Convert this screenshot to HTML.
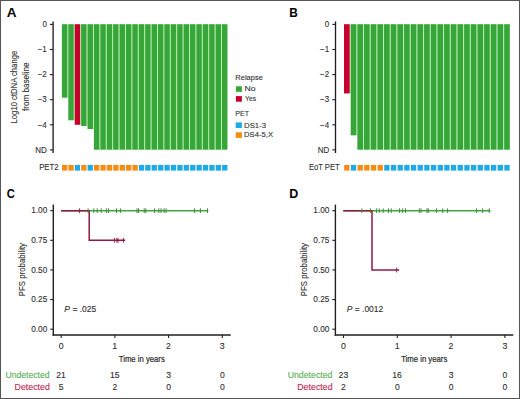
<!DOCTYPE html>
<html><head><meta charset="utf-8"><style>
html,body{margin:0;padding:0;background:#fff;}
body{width:520px;height:399px;overflow:hidden;position:relative;}
svg{position:absolute;left:0;top:0;}
svg text{font-family:"Liberation Sans", sans-serif;}
svg text.n{stroke-width:0.1px;}
svg text.b{stroke-width:0.22px;}
</style></head><body>
<svg width="520" height="399" viewBox="0 0 520 399">
<rect x="0.5" y="0.5" width="519" height="398" fill="#fff" stroke="#555" stroke-width="1"/>
<line x1="53.10" y1="21.40" x2="53.10" y2="153.00" stroke="#231f20" stroke-width="1.35"/>
<line x1="49.90" y1="24.40" x2="53.10" y2="24.40" stroke="#231f20" stroke-width="1.1"/>
<line x1="49.90" y1="49.50" x2="53.10" y2="49.50" stroke="#231f20" stroke-width="1.1"/>
<line x1="49.90" y1="74.60" x2="53.10" y2="74.60" stroke="#231f20" stroke-width="1.1"/>
<line x1="49.90" y1="99.70" x2="53.10" y2="99.70" stroke="#231f20" stroke-width="1.1"/>
<line x1="49.90" y1="124.80" x2="53.10" y2="124.80" stroke="#231f20" stroke-width="1.1"/>
<line x1="49.90" y1="149.90" x2="53.10" y2="149.90" stroke="#231f20" stroke-width="1.1"/>
<rect x="67.15" y="24.20" width="1.35" height="73.49" fill="#c4f5bc"/>
<rect x="73.55" y="24.20" width="1.35" height="96.08" fill="#c4f5bc"/>
<rect x="79.96" y="24.20" width="1.35" height="100.60" fill="#c4f5bc"/>
<rect x="86.36" y="24.20" width="1.35" height="101.86" fill="#c4f5bc"/>
<rect x="92.77" y="24.20" width="1.35" height="104.87" fill="#c4f5bc"/>
<rect x="99.17" y="24.20" width="1.35" height="125.50" fill="#c4f5bc"/>
<rect x="105.57" y="24.20" width="1.35" height="125.50" fill="#c4f5bc"/>
<rect x="111.98" y="24.20" width="1.35" height="125.50" fill="#c4f5bc"/>
<rect x="118.38" y="24.20" width="1.35" height="125.50" fill="#c4f5bc"/>
<rect x="124.79" y="24.20" width="1.35" height="125.50" fill="#c4f5bc"/>
<rect x="131.19" y="24.20" width="1.35" height="125.50" fill="#c4f5bc"/>
<rect x="137.59" y="24.20" width="1.35" height="125.50" fill="#c4f5bc"/>
<rect x="144.00" y="24.20" width="1.35" height="125.50" fill="#c4f5bc"/>
<rect x="150.40" y="24.20" width="1.35" height="125.50" fill="#c4f5bc"/>
<rect x="156.81" y="24.20" width="1.35" height="125.50" fill="#c4f5bc"/>
<rect x="163.21" y="24.20" width="1.35" height="125.50" fill="#c4f5bc"/>
<rect x="169.61" y="24.20" width="1.35" height="125.50" fill="#c4f5bc"/>
<rect x="176.02" y="24.20" width="1.35" height="125.50" fill="#c4f5bc"/>
<rect x="182.42" y="24.20" width="1.35" height="125.50" fill="#c4f5bc"/>
<rect x="188.83" y="24.20" width="1.35" height="125.50" fill="#c4f5bc"/>
<rect x="195.23" y="24.20" width="1.35" height="125.50" fill="#c4f5bc"/>
<rect x="201.63" y="24.20" width="1.35" height="125.50" fill="#c4f5bc"/>
<rect x="208.04" y="24.20" width="1.35" height="125.50" fill="#c4f5bc"/>
<rect x="214.44" y="24.20" width="1.35" height="125.50" fill="#c4f5bc"/>
<rect x="220.85" y="24.20" width="1.35" height="125.50" fill="#c4f5bc"/>
<rect x="61.90" y="24.20" width="5.45" height="73.49" fill="#37a639"/>
<rect x="68.30" y="24.20" width="5.45" height="96.08" fill="#37a639"/>
<rect x="74.71" y="24.20" width="5.45" height="100.60" fill="#c8002d"/>
<rect x="81.11" y="24.20" width="5.45" height="101.86" fill="#37a639"/>
<rect x="87.52" y="24.20" width="5.45" height="104.87" fill="#37a639"/>
<rect x="93.92" y="24.20" width="5.45" height="125.50" fill="#37a639"/>
<rect x="100.32" y="24.20" width="5.45" height="125.50" fill="#37a639"/>
<rect x="106.73" y="24.20" width="5.45" height="125.50" fill="#37a639"/>
<rect x="113.13" y="24.20" width="5.45" height="125.50" fill="#37a639"/>
<rect x="119.54" y="24.20" width="5.45" height="125.50" fill="#37a639"/>
<rect x="125.94" y="24.20" width="5.45" height="125.50" fill="#37a639"/>
<rect x="132.34" y="24.20" width="5.45" height="125.50" fill="#37a639"/>
<rect x="138.75" y="24.20" width="5.45" height="125.50" fill="#37a639"/>
<rect x="145.15" y="24.20" width="5.45" height="125.50" fill="#37a639"/>
<rect x="151.56" y="24.20" width="5.45" height="125.50" fill="#37a639"/>
<rect x="157.96" y="24.20" width="5.45" height="125.50" fill="#37a639"/>
<rect x="164.36" y="24.20" width="5.45" height="125.50" fill="#37a639"/>
<rect x="170.77" y="24.20" width="5.45" height="125.50" fill="#37a639"/>
<rect x="177.17" y="24.20" width="5.45" height="125.50" fill="#37a639"/>
<rect x="183.58" y="24.20" width="5.45" height="125.50" fill="#37a639"/>
<rect x="189.98" y="24.20" width="5.45" height="125.50" fill="#37a639"/>
<rect x="196.38" y="24.20" width="5.45" height="125.50" fill="#37a639"/>
<rect x="202.79" y="24.20" width="5.45" height="125.50" fill="#37a639"/>
<rect x="209.19" y="24.20" width="5.45" height="125.50" fill="#37a639"/>
<rect x="215.60" y="24.20" width="5.45" height="125.50" fill="#37a639"/>
<rect x="222.00" y="24.20" width="5.45" height="125.50" fill="#37a639"/>
<rect x="61.98" y="164.90" width="5.30" height="5.70" fill="#f58c14"/>
<rect x="68.38" y="164.90" width="5.30" height="5.70" fill="#f58c14"/>
<rect x="74.78" y="164.90" width="5.30" height="5.70" fill="#1eaae6"/>
<rect x="81.19" y="164.90" width="5.30" height="5.70" fill="#f58c14"/>
<rect x="87.59" y="164.90" width="5.30" height="5.70" fill="#1eaae6"/>
<rect x="93.99" y="164.90" width="5.30" height="5.70" fill="#f58c14"/>
<rect x="100.40" y="164.90" width="5.30" height="5.70" fill="#f58c14"/>
<rect x="106.80" y="164.90" width="5.30" height="5.70" fill="#f58c14"/>
<rect x="113.21" y="164.90" width="5.30" height="5.70" fill="#f58c14"/>
<rect x="119.61" y="164.90" width="5.30" height="5.70" fill="#f58c14"/>
<rect x="126.02" y="164.90" width="5.30" height="5.70" fill="#f58c14"/>
<rect x="132.42" y="164.90" width="5.30" height="5.70" fill="#f58c14"/>
<rect x="138.82" y="164.90" width="5.30" height="5.70" fill="#1eaae6"/>
<rect x="145.23" y="164.90" width="5.30" height="5.70" fill="#1eaae6"/>
<rect x="151.63" y="164.90" width="5.30" height="5.70" fill="#1eaae6"/>
<rect x="158.03" y="164.90" width="5.30" height="5.70" fill="#1eaae6"/>
<rect x="164.44" y="164.90" width="5.30" height="5.70" fill="#1eaae6"/>
<rect x="170.84" y="164.90" width="5.30" height="5.70" fill="#1eaae6"/>
<rect x="177.25" y="164.90" width="5.30" height="5.70" fill="#1eaae6"/>
<rect x="183.65" y="164.90" width="5.30" height="5.70" fill="#1eaae6"/>
<rect x="190.05" y="164.90" width="5.30" height="5.70" fill="#1eaae6"/>
<rect x="196.46" y="164.90" width="5.30" height="5.70" fill="#1eaae6"/>
<rect x="202.86" y="164.90" width="5.30" height="5.70" fill="#1eaae6"/>
<rect x="209.27" y="164.90" width="5.30" height="5.70" fill="#1eaae6"/>
<rect x="215.67" y="164.90" width="5.30" height="5.70" fill="#1eaae6"/>
<rect x="222.07" y="164.90" width="5.30" height="5.70" fill="#1eaae6"/>
<line x1="335.50" y1="21.40" x2="335.50" y2="153.00" stroke="#231f20" stroke-width="1.35"/>
<line x1="332.30" y1="24.40" x2="335.50" y2="24.40" stroke="#231f20" stroke-width="1.1"/>
<line x1="332.30" y1="49.50" x2="335.50" y2="49.50" stroke="#231f20" stroke-width="1.1"/>
<line x1="332.30" y1="74.60" x2="335.50" y2="74.60" stroke="#231f20" stroke-width="1.1"/>
<line x1="332.30" y1="99.70" x2="335.50" y2="99.70" stroke="#231f20" stroke-width="1.1"/>
<line x1="332.30" y1="124.80" x2="335.50" y2="124.80" stroke="#231f20" stroke-width="1.1"/>
<line x1="332.30" y1="149.90" x2="335.50" y2="149.90" stroke="#231f20" stroke-width="1.1"/>
<rect x="349.50" y="24.20" width="1.37" height="69.23" fill="#c4f5bc"/>
<rect x="356.17" y="24.20" width="1.37" height="111.14" fill="#c4f5bc"/>
<rect x="362.84" y="24.20" width="1.37" height="125.50" fill="#c4f5bc"/>
<rect x="369.52" y="24.20" width="1.37" height="125.50" fill="#c4f5bc"/>
<rect x="376.19" y="24.20" width="1.37" height="125.50" fill="#c4f5bc"/>
<rect x="382.86" y="24.20" width="1.37" height="125.50" fill="#c4f5bc"/>
<rect x="389.53" y="24.20" width="1.37" height="125.50" fill="#c4f5bc"/>
<rect x="396.20" y="24.20" width="1.37" height="125.50" fill="#c4f5bc"/>
<rect x="402.88" y="24.20" width="1.37" height="125.50" fill="#c4f5bc"/>
<rect x="409.55" y="24.20" width="1.37" height="125.50" fill="#c4f5bc"/>
<rect x="416.22" y="24.20" width="1.37" height="125.50" fill="#c4f5bc"/>
<rect x="422.89" y="24.20" width="1.37" height="125.50" fill="#c4f5bc"/>
<rect x="429.56" y="24.20" width="1.37" height="125.50" fill="#c4f5bc"/>
<rect x="436.24" y="24.20" width="1.37" height="125.50" fill="#c4f5bc"/>
<rect x="442.91" y="24.20" width="1.37" height="125.50" fill="#c4f5bc"/>
<rect x="449.58" y="24.20" width="1.37" height="125.50" fill="#c4f5bc"/>
<rect x="456.25" y="24.20" width="1.37" height="125.50" fill="#c4f5bc"/>
<rect x="462.92" y="24.20" width="1.37" height="125.50" fill="#c4f5bc"/>
<rect x="469.60" y="24.20" width="1.37" height="125.50" fill="#c4f5bc"/>
<rect x="476.27" y="24.20" width="1.37" height="125.50" fill="#c4f5bc"/>
<rect x="482.94" y="24.20" width="1.37" height="125.50" fill="#c4f5bc"/>
<rect x="489.61" y="24.20" width="1.37" height="125.50" fill="#c4f5bc"/>
<rect x="496.28" y="24.20" width="1.37" height="125.50" fill="#c4f5bc"/>
<rect x="502.96" y="24.20" width="1.37" height="125.50" fill="#c4f5bc"/>
<rect x="344.00" y="24.20" width="5.70" height="69.23" fill="#c8002d"/>
<rect x="350.67" y="24.20" width="5.70" height="111.14" fill="#37a639"/>
<rect x="357.34" y="24.20" width="5.70" height="125.50" fill="#37a639"/>
<rect x="364.02" y="24.20" width="5.70" height="125.50" fill="#37a639"/>
<rect x="370.69" y="24.20" width="5.70" height="125.50" fill="#37a639"/>
<rect x="377.36" y="24.20" width="5.70" height="125.50" fill="#37a639"/>
<rect x="384.03" y="24.20" width="5.70" height="125.50" fill="#37a639"/>
<rect x="390.70" y="24.20" width="5.70" height="125.50" fill="#37a639"/>
<rect x="397.38" y="24.20" width="5.70" height="125.50" fill="#37a639"/>
<rect x="404.05" y="24.20" width="5.70" height="125.50" fill="#37a639"/>
<rect x="410.72" y="24.20" width="5.70" height="125.50" fill="#37a639"/>
<rect x="417.39" y="24.20" width="5.70" height="125.50" fill="#37a639"/>
<rect x="424.06" y="24.20" width="5.70" height="125.50" fill="#37a639"/>
<rect x="430.74" y="24.20" width="5.70" height="125.50" fill="#37a639"/>
<rect x="437.41" y="24.20" width="5.70" height="125.50" fill="#37a639"/>
<rect x="444.08" y="24.20" width="5.70" height="125.50" fill="#37a639"/>
<rect x="450.75" y="24.20" width="5.70" height="125.50" fill="#37a639"/>
<rect x="457.42" y="24.20" width="5.70" height="125.50" fill="#37a639"/>
<rect x="464.10" y="24.20" width="5.70" height="125.50" fill="#37a639"/>
<rect x="470.77" y="24.20" width="5.70" height="125.50" fill="#37a639"/>
<rect x="477.44" y="24.20" width="5.70" height="125.50" fill="#37a639"/>
<rect x="484.11" y="24.20" width="5.70" height="125.50" fill="#37a639"/>
<rect x="490.78" y="24.20" width="5.70" height="125.50" fill="#37a639"/>
<rect x="497.46" y="24.20" width="5.70" height="125.50" fill="#37a639"/>
<rect x="504.13" y="24.20" width="5.70" height="125.50" fill="#37a639"/>
<rect x="344.20" y="164.90" width="5.30" height="5.70" fill="#f58c14"/>
<rect x="350.87" y="164.90" width="5.30" height="5.70" fill="#1eaae6"/>
<rect x="357.54" y="164.90" width="5.30" height="5.70" fill="#f58c14"/>
<rect x="364.22" y="164.90" width="5.30" height="5.70" fill="#f58c14"/>
<rect x="370.89" y="164.90" width="5.30" height="5.70" fill="#f58c14"/>
<rect x="377.56" y="164.90" width="5.30" height="5.70" fill="#f58c14"/>
<rect x="384.23" y="164.90" width="5.30" height="5.70" fill="#1eaae6"/>
<rect x="390.90" y="164.90" width="5.30" height="5.70" fill="#1eaae6"/>
<rect x="397.58" y="164.90" width="5.30" height="5.70" fill="#1eaae6"/>
<rect x="404.25" y="164.90" width="5.30" height="5.70" fill="#1eaae6"/>
<rect x="410.92" y="164.90" width="5.30" height="5.70" fill="#1eaae6"/>
<rect x="417.59" y="164.90" width="5.30" height="5.70" fill="#1eaae6"/>
<rect x="424.26" y="164.90" width="5.30" height="5.70" fill="#1eaae6"/>
<rect x="430.94" y="164.90" width="5.30" height="5.70" fill="#1eaae6"/>
<rect x="437.61" y="164.90" width="5.30" height="5.70" fill="#1eaae6"/>
<rect x="444.28" y="164.90" width="5.30" height="5.70" fill="#1eaae6"/>
<rect x="450.95" y="164.90" width="5.30" height="5.70" fill="#1eaae6"/>
<rect x="457.62" y="164.90" width="5.30" height="5.70" fill="#1eaae6"/>
<rect x="464.30" y="164.90" width="5.30" height="5.70" fill="#1eaae6"/>
<rect x="470.97" y="164.90" width="5.30" height="5.70" fill="#1eaae6"/>
<rect x="477.64" y="164.90" width="5.30" height="5.70" fill="#1eaae6"/>
<rect x="484.31" y="164.90" width="5.30" height="5.70" fill="#1eaae6"/>
<rect x="490.98" y="164.90" width="5.30" height="5.70" fill="#1eaae6"/>
<rect x="497.66" y="164.90" width="5.30" height="5.70" fill="#1eaae6"/>
<rect x="504.33" y="164.90" width="5.30" height="5.70" fill="#1eaae6"/>
<rect x="235.90" y="86.30" width="6.00" height="5.50" fill="#37a639"/>
<rect x="235.90" y="96.10" width="6.00" height="5.60" fill="#c8002d"/>
<rect x="235.70" y="122.40" width="6.20" height="5.60" fill="#1eaae6"/>
<rect x="235.70" y="132.30" width="6.20" height="5.60" fill="#f58c14"/>
<line x1="53.30" y1="204.60" x2="53.30" y2="335.70" stroke="#231f20" stroke-width="1.4"/>
<line x1="52.60" y1="335.00" x2="230.70" y2="335.00" stroke="#231f20" stroke-width="1.4"/>
<line x1="50.20" y1="210.70" x2="53.30" y2="210.70" stroke="#231f20" stroke-width="1.1"/>
<line x1="50.20" y1="240.32" x2="53.30" y2="240.32" stroke="#231f20" stroke-width="1.1"/>
<line x1="50.20" y1="269.95" x2="53.30" y2="269.95" stroke="#231f20" stroke-width="1.1"/>
<line x1="50.20" y1="299.57" x2="53.30" y2="299.57" stroke="#231f20" stroke-width="1.1"/>
<line x1="50.20" y1="329.20" x2="53.30" y2="329.20" stroke="#231f20" stroke-width="1.1"/>
<line x1="61.20" y1="335.00" x2="61.20" y2="338.00" stroke="#231f20" stroke-width="1.1"/>
<line x1="114.90" y1="335.00" x2="114.90" y2="338.00" stroke="#231f20" stroke-width="1.1"/>
<line x1="168.60" y1="335.00" x2="168.60" y2="338.00" stroke="#231f20" stroke-width="1.1"/>
<line x1="222.30" y1="335.00" x2="222.30" y2="338.00" stroke="#231f20" stroke-width="1.1"/>
<line x1="61.20" y1="210.70" x2="208.30" y2="210.70" stroke="#42a83e" stroke-width="1.4"/>
<polyline points="60.90,210.70 89.20,210.70 89.20,240.32 125.20,240.32" fill="none" stroke="#921a40" stroke-width="1.5"/>
<line x1="88.10" y1="208.30" x2="88.10" y2="213.10" stroke="#3b873b" stroke-width="0.95"/>
<line x1="93.80" y1="208.30" x2="93.80" y2="213.10" stroke="#3b873b" stroke-width="0.95"/>
<line x1="97.20" y1="208.30" x2="97.20" y2="213.10" stroke="#3b873b" stroke-width="0.95"/>
<line x1="101.20" y1="208.30" x2="101.20" y2="213.10" stroke="#3b873b" stroke-width="0.95"/>
<line x1="106.40" y1="208.30" x2="106.40" y2="213.10" stroke="#3b873b" stroke-width="0.95"/>
<line x1="108.50" y1="208.30" x2="108.50" y2="213.10" stroke="#3b873b" stroke-width="0.95"/>
<line x1="116.50" y1="208.30" x2="116.50" y2="213.10" stroke="#3b873b" stroke-width="0.95"/>
<line x1="120.40" y1="208.30" x2="120.40" y2="213.10" stroke="#3b873b" stroke-width="0.95"/>
<line x1="137.00" y1="208.30" x2="137.00" y2="213.10" stroke="#3b873b" stroke-width="0.95"/>
<line x1="138.50" y1="208.30" x2="138.50" y2="213.10" stroke="#3b873b" stroke-width="0.95"/>
<line x1="144.20" y1="208.30" x2="144.20" y2="213.10" stroke="#3b873b" stroke-width="0.95"/>
<line x1="145.80" y1="208.30" x2="145.80" y2="213.10" stroke="#3b873b" stroke-width="0.95"/>
<line x1="154.60" y1="208.30" x2="154.60" y2="213.10" stroke="#3b873b" stroke-width="0.95"/>
<line x1="158.80" y1="208.30" x2="158.80" y2="213.10" stroke="#3b873b" stroke-width="0.95"/>
<line x1="161.00" y1="208.30" x2="161.00" y2="213.10" stroke="#3b873b" stroke-width="0.95"/>
<line x1="164.00" y1="208.30" x2="164.00" y2="213.10" stroke="#3b873b" stroke-width="0.95"/>
<line x1="166.00" y1="208.30" x2="166.00" y2="213.10" stroke="#3b873b" stroke-width="0.95"/>
<line x1="194.40" y1="208.30" x2="194.40" y2="213.10" stroke="#3b873b" stroke-width="0.95"/>
<line x1="200.40" y1="208.30" x2="200.40" y2="213.10" stroke="#3b873b" stroke-width="0.95"/>
<line x1="207.50" y1="208.30" x2="207.50" y2="213.10" stroke="#3b873b" stroke-width="0.95"/>
<line x1="79.60" y1="208.30" x2="79.60" y2="213.10" stroke="#921a40" stroke-width="0.95"/>
<line x1="114.40" y1="237.92" x2="114.40" y2="242.72" stroke="#921a40" stroke-width="0.95"/>
<line x1="116.80" y1="237.92" x2="116.80" y2="242.72" stroke="#921a40" stroke-width="0.95"/>
<line x1="118.00" y1="237.92" x2="118.00" y2="242.72" stroke="#921a40" stroke-width="0.95"/>
<line x1="123.40" y1="237.92" x2="123.40" y2="242.72" stroke="#921a40" stroke-width="0.95"/>
<line x1="335.40" y1="204.60" x2="335.40" y2="335.70" stroke="#231f20" stroke-width="1.4"/>
<line x1="334.70" y1="335.00" x2="513.30" y2="335.00" stroke="#231f20" stroke-width="1.4"/>
<line x1="332.30" y1="210.70" x2="335.40" y2="210.70" stroke="#231f20" stroke-width="1.1"/>
<line x1="332.30" y1="240.32" x2="335.40" y2="240.32" stroke="#231f20" stroke-width="1.1"/>
<line x1="332.30" y1="269.95" x2="335.40" y2="269.95" stroke="#231f20" stroke-width="1.1"/>
<line x1="332.30" y1="299.57" x2="335.40" y2="299.57" stroke="#231f20" stroke-width="1.1"/>
<line x1="332.30" y1="329.20" x2="335.40" y2="329.20" stroke="#231f20" stroke-width="1.1"/>
<line x1="343.50" y1="335.00" x2="343.50" y2="338.00" stroke="#231f20" stroke-width="1.1"/>
<line x1="397.30" y1="335.00" x2="397.30" y2="338.00" stroke="#231f20" stroke-width="1.1"/>
<line x1="451.10" y1="335.00" x2="451.10" y2="338.00" stroke="#231f20" stroke-width="1.1"/>
<line x1="504.90" y1="335.00" x2="504.90" y2="338.00" stroke="#231f20" stroke-width="1.1"/>
<line x1="343.50" y1="210.70" x2="490.50" y2="210.70" stroke="#42a83e" stroke-width="1.4"/>
<polyline points="343.20,210.70 372.00,210.70 372.00,269.95 399.20,269.95" fill="none" stroke="#921a40" stroke-width="1.5"/>
<line x1="361.90" y1="208.30" x2="361.90" y2="213.10" stroke="#3b873b" stroke-width="0.95"/>
<line x1="370.40" y1="208.30" x2="370.40" y2="213.10" stroke="#3b873b" stroke-width="0.95"/>
<line x1="376.40" y1="208.30" x2="376.40" y2="213.10" stroke="#3b873b" stroke-width="0.95"/>
<line x1="379.20" y1="208.30" x2="379.20" y2="213.10" stroke="#3b873b" stroke-width="0.95"/>
<line x1="383.20" y1="208.30" x2="383.20" y2="213.10" stroke="#3b873b" stroke-width="0.95"/>
<line x1="388.50" y1="208.30" x2="388.50" y2="213.10" stroke="#3b873b" stroke-width="0.95"/>
<line x1="391.20" y1="208.30" x2="391.20" y2="213.10" stroke="#3b873b" stroke-width="0.95"/>
<line x1="399.60" y1="208.30" x2="399.60" y2="213.10" stroke="#3b873b" stroke-width="0.95"/>
<line x1="402.70" y1="208.30" x2="402.70" y2="213.10" stroke="#3b873b" stroke-width="0.95"/>
<line x1="405.50" y1="208.30" x2="405.50" y2="213.10" stroke="#3b873b" stroke-width="0.95"/>
<line x1="419.30" y1="208.30" x2="419.30" y2="213.10" stroke="#3b873b" stroke-width="0.95"/>
<line x1="421.00" y1="208.30" x2="421.00" y2="213.10" stroke="#3b873b" stroke-width="0.95"/>
<line x1="427.00" y1="208.30" x2="427.00" y2="213.10" stroke="#3b873b" stroke-width="0.95"/>
<line x1="428.30" y1="208.30" x2="428.30" y2="213.10" stroke="#3b873b" stroke-width="0.95"/>
<line x1="436.40" y1="208.30" x2="436.40" y2="213.10" stroke="#3b873b" stroke-width="0.95"/>
<line x1="442.70" y1="208.30" x2="442.70" y2="213.10" stroke="#3b873b" stroke-width="0.95"/>
<line x1="447.60" y1="208.30" x2="447.60" y2="213.10" stroke="#3b873b" stroke-width="0.95"/>
<line x1="476.40" y1="208.30" x2="476.40" y2="213.10" stroke="#3b873b" stroke-width="0.95"/>
<line x1="482.60" y1="208.30" x2="482.60" y2="213.10" stroke="#3b873b" stroke-width="0.95"/>
<line x1="489.20" y1="208.30" x2="489.20" y2="213.10" stroke="#3b873b" stroke-width="0.95"/>
<line x1="396.70" y1="267.55" x2="396.70" y2="272.35" stroke="#921a40" stroke-width="0.95"/>
<text transform="translate(6.74,16.80) scale(1.0588,1)" font-size="12.8" font-weight="bold" fill="#000">A</text>
<text transform="translate(42.46,27.10) scale(0.9500,1)" font-size="8.4" fill="#2e2e2e" class="n" stroke="#2e2e2e">0</text>
<text transform="translate(37.71,52.20) scale(0.9500,1)" font-size="8.4" fill="#2e2e2e" class="n" stroke="#2e2e2e">−1</text>
<text transform="translate(37.71,77.30) scale(0.9500,1)" font-size="8.4" fill="#2e2e2e" class="n" stroke="#2e2e2e">−2</text>
<text transform="translate(37.71,102.40) scale(0.9500,1)" font-size="8.4" fill="#2e2e2e" class="n" stroke="#2e2e2e">−3</text>
<text transform="translate(37.71,127.50) scale(0.9500,1)" font-size="8.4" fill="#2e2e2e" class="n" stroke="#2e2e2e">−4</text>
<text transform="translate(35.34,152.60) scale(0.9500,1)" font-size="8.4" fill="#2e2e2e" class="n" stroke="#2e2e2e">ND</text>
<text transform="translate(39.13,170.30) scale(0.8927,1)" font-size="8.7" fill="#2e2e2e" class="n" stroke="#2e2e2e">PET2</text>
<text transform="translate(289.21,16.80) scale(0.9250,1)" font-size="12.8" font-weight="bold" fill="#000">B</text>
<text transform="translate(324.86,27.10) scale(0.9500,1)" font-size="8.4" fill="#2e2e2e" class="n" stroke="#2e2e2e">0</text>
<text transform="translate(320.11,52.20) scale(0.9500,1)" font-size="8.4" fill="#2e2e2e" class="n" stroke="#2e2e2e">−1</text>
<text transform="translate(320.11,77.30) scale(0.9500,1)" font-size="8.4" fill="#2e2e2e" class="n" stroke="#2e2e2e">−2</text>
<text transform="translate(320.11,102.40) scale(0.9500,1)" font-size="8.4" fill="#2e2e2e" class="n" stroke="#2e2e2e">−3</text>
<text transform="translate(320.11,127.50) scale(0.9500,1)" font-size="8.4" fill="#2e2e2e" class="n" stroke="#2e2e2e">−4</text>
<text transform="translate(317.74,152.60) scale(0.9500,1)" font-size="8.4" fill="#2e2e2e" class="n" stroke="#2e2e2e">ND</text>
<text transform="translate(308.94,170.30) scale(0.8759,1)" font-size="8.7" fill="#2e2e2e" class="n" stroke="#2e2e2e">EoT PET</text>
<text transform="translate(16.90,123.44) rotate(-90) scale(0.8560,1)" font-size="9.0" fill="#2e2e2e" class="n" stroke="#2e2e2e">Log10 ctDNA change</text>
<text transform="translate(28.60,111.02) rotate(-90) scale(0.8995,1)" font-size="9.0" fill="#2e2e2e" class="n" stroke="#2e2e2e">from baseline</text>
<text transform="translate(235.30,79.70) scale(0.9381,1)" font-size="8" fill="#2e2e2e" class="n" stroke="#2e2e2e">Relapse</text>
<text transform="translate(244.49,91.20) scale(1.0811,1)" font-size="8" fill="#2e2e2e" class="n" stroke="#2e2e2e">No</text>
<text transform="translate(245.09,101.30) scale(0.8400,1)" font-size="8" fill="#2e2e2e" class="n" stroke="#2e2e2e">Yes</text>
<text transform="translate(235.33,115.80) scale(0.8881,1)" font-size="8" fill="#2e2e2e" class="n" stroke="#2e2e2e">PET</text>
<text transform="translate(244.07,127.60) scale(0.9674,1)" font-size="8" fill="#2e2e2e" class="n" stroke="#2e2e2e">DS1-3</text>
<text transform="translate(244.08,137.40) scale(0.9573,1)" font-size="8" fill="#2e2e2e" class="n" stroke="#2e2e2e">DS4-5,X</text>
<text transform="translate(6.86,197.90) scale(0.8727,1)" font-size="12.8" font-weight="bold" fill="#000">C</text>
<text transform="translate(31.22,213.30) scale(0.9800,1)" font-size="8.4" fill="#2e2e2e" class="n" stroke="#2e2e2e">1.00</text>
<text transform="translate(31.22,242.92) scale(0.9800,1)" font-size="8.4" fill="#2e2e2e" class="n" stroke="#2e2e2e">0.75</text>
<text transform="translate(31.22,272.55) scale(0.9800,1)" font-size="8.4" fill="#2e2e2e" class="n" stroke="#2e2e2e">0.50</text>
<text transform="translate(31.22,302.18) scale(0.9800,1)" font-size="8.4" fill="#2e2e2e" class="n" stroke="#2e2e2e">0.25</text>
<text transform="translate(31.22,331.80) scale(0.9800,1)" font-size="8.4" fill="#2e2e2e" class="n" stroke="#2e2e2e">0.00</text>
<text transform="translate(58.83,348.60) scale(1.0000,1)" font-size="8.8" fill="#2e2e2e" class="n" stroke="#2e2e2e">0</text>
<text transform="translate(112.28,348.60) scale(1.0000,1)" font-size="8.8" fill="#2e2e2e" class="n" stroke="#2e2e2e">1</text>
<text transform="translate(166.10,348.60) scale(1.0000,1)" font-size="8.8" fill="#2e2e2e" class="n" stroke="#2e2e2e">2</text>
<text transform="translate(219.80,348.60) scale(1.0000,1)" font-size="8.8" fill="#2e2e2e" class="n" stroke="#2e2e2e">3</text>
<text transform="translate(118.73,361.80) scale(0.8686,1)" font-size="8.9" fill="#2e2e2e" class="b" stroke="#2e2e2e">Time in years</text>
<text transform="translate(24.80,296.15) rotate(-90) scale(0.8714,1)" font-size="9.0" fill="#2e2e2e" class="n" stroke="#2e2e2e">PFS probability</text>
<text transform="translate(64.35,311.50) scale(1.0146,1)" font-size="8.4" fill="#2e2e2e" class="n" stroke="#2e2e2e"><tspan font-style="italic">P</tspan> = .025</text>
<text transform="translate(5.45,377.70) scale(1.0058,1)" font-size="8.6" fill="#55b04f" class="n" stroke="#55b04f">Undetected</text>
<text transform="translate(14.53,389.70) scale(1.0273,1)" font-size="8.6" fill="#c22450" class="n" stroke="#c22450">Detected</text>
<text transform="translate(56.33,377.70) scale(1.0000,1)" font-size="8.6" fill="#2e2e2e" class="n" stroke="#2e2e2e">21</text>
<text transform="translate(58.70,389.70) scale(1.0000,1)" font-size="8.6" fill="#2e2e2e" class="n" stroke="#2e2e2e">5</text>
<text transform="translate(109.90,377.70) scale(1.0000,1)" font-size="8.6" fill="#2e2e2e" class="n" stroke="#2e2e2e">15</text>
<text transform="translate(112.53,389.70) scale(1.0000,1)" font-size="8.6" fill="#2e2e2e" class="n" stroke="#2e2e2e">2</text>
<text transform="translate(166.23,377.70) scale(1.0000,1)" font-size="8.6" fill="#2e2e2e" class="n" stroke="#2e2e2e">3</text>
<text transform="translate(166.23,389.70) scale(1.0000,1)" font-size="8.6" fill="#2e2e2e" class="n" stroke="#2e2e2e">0</text>
<text transform="translate(219.93,377.70) scale(1.0000,1)" font-size="8.6" fill="#2e2e2e" class="n" stroke="#2e2e2e">0</text>
<text transform="translate(219.93,389.70) scale(1.0000,1)" font-size="8.6" fill="#2e2e2e" class="n" stroke="#2e2e2e">0</text>
<text transform="translate(289.27,197.90) scale(0.9750,1)" font-size="12.8" font-weight="bold" fill="#000">D</text>
<text transform="translate(313.32,213.30) scale(0.9800,1)" font-size="8.4" fill="#2e2e2e" class="n" stroke="#2e2e2e">1.00</text>
<text transform="translate(313.32,242.92) scale(0.9800,1)" font-size="8.4" fill="#2e2e2e" class="n" stroke="#2e2e2e">0.75</text>
<text transform="translate(313.32,272.55) scale(0.9800,1)" font-size="8.4" fill="#2e2e2e" class="n" stroke="#2e2e2e">0.50</text>
<text transform="translate(313.32,302.18) scale(0.9800,1)" font-size="8.4" fill="#2e2e2e" class="n" stroke="#2e2e2e">0.25</text>
<text transform="translate(313.32,331.80) scale(0.9800,1)" font-size="8.4" fill="#2e2e2e" class="n" stroke="#2e2e2e">0.00</text>
<text transform="translate(341.12,348.60) scale(1.0000,1)" font-size="8.8" fill="#2e2e2e" class="n" stroke="#2e2e2e">0</text>
<text transform="translate(394.68,348.60) scale(1.0000,1)" font-size="8.8" fill="#2e2e2e" class="n" stroke="#2e2e2e">1</text>
<text transform="translate(448.60,348.60) scale(1.0000,1)" font-size="8.8" fill="#2e2e2e" class="n" stroke="#2e2e2e">2</text>
<text transform="translate(502.40,348.60) scale(1.0000,1)" font-size="8.8" fill="#2e2e2e" class="n" stroke="#2e2e2e">3</text>
<text transform="translate(401.18,361.80) scale(0.8686,1)" font-size="8.9" fill="#2e2e2e" class="b" stroke="#2e2e2e">Time in years</text>
<text transform="translate(306.90,296.15) rotate(-90) scale(0.8714,1)" font-size="9.0" fill="#2e2e2e" class="n" stroke="#2e2e2e">PFS probability</text>
<text transform="translate(346.75,311.50) scale(1.0085,1)" font-size="8.4" fill="#2e2e2e" class="n" stroke="#2e2e2e"><tspan font-style="italic">P</tspan> = .0012</text>
<text transform="translate(287.64,377.70) scale(1.0199,1)" font-size="8.6" fill="#55b04f" class="n" stroke="#55b04f">Undetected</text>
<text transform="translate(297.23,389.70) scale(1.0303,1)" font-size="8.6" fill="#c22450" class="n" stroke="#c22450">Detected</text>
<text transform="translate(338.62,377.70) scale(1.0000,1)" font-size="8.6" fill="#2e2e2e" class="n" stroke="#2e2e2e">23</text>
<text transform="translate(341.12,389.70) scale(1.0000,1)" font-size="8.6" fill="#2e2e2e" class="n" stroke="#2e2e2e">2</text>
<text transform="translate(392.30,377.70) scale(1.0000,1)" font-size="8.6" fill="#2e2e2e" class="n" stroke="#2e2e2e">16</text>
<text transform="translate(394.93,389.70) scale(1.0000,1)" font-size="8.6" fill="#2e2e2e" class="n" stroke="#2e2e2e">0</text>
<text transform="translate(448.73,377.70) scale(1.0000,1)" font-size="8.6" fill="#2e2e2e" class="n" stroke="#2e2e2e">3</text>
<text transform="translate(448.73,389.70) scale(1.0000,1)" font-size="8.6" fill="#2e2e2e" class="n" stroke="#2e2e2e">0</text>
<text transform="translate(502.52,377.70) scale(1.0000,1)" font-size="8.6" fill="#2e2e2e" class="n" stroke="#2e2e2e">0</text>
<text transform="translate(502.52,389.70) scale(1.0000,1)" font-size="8.6" fill="#2e2e2e" class="n" stroke="#2e2e2e">0</text>
</svg></body></html>
